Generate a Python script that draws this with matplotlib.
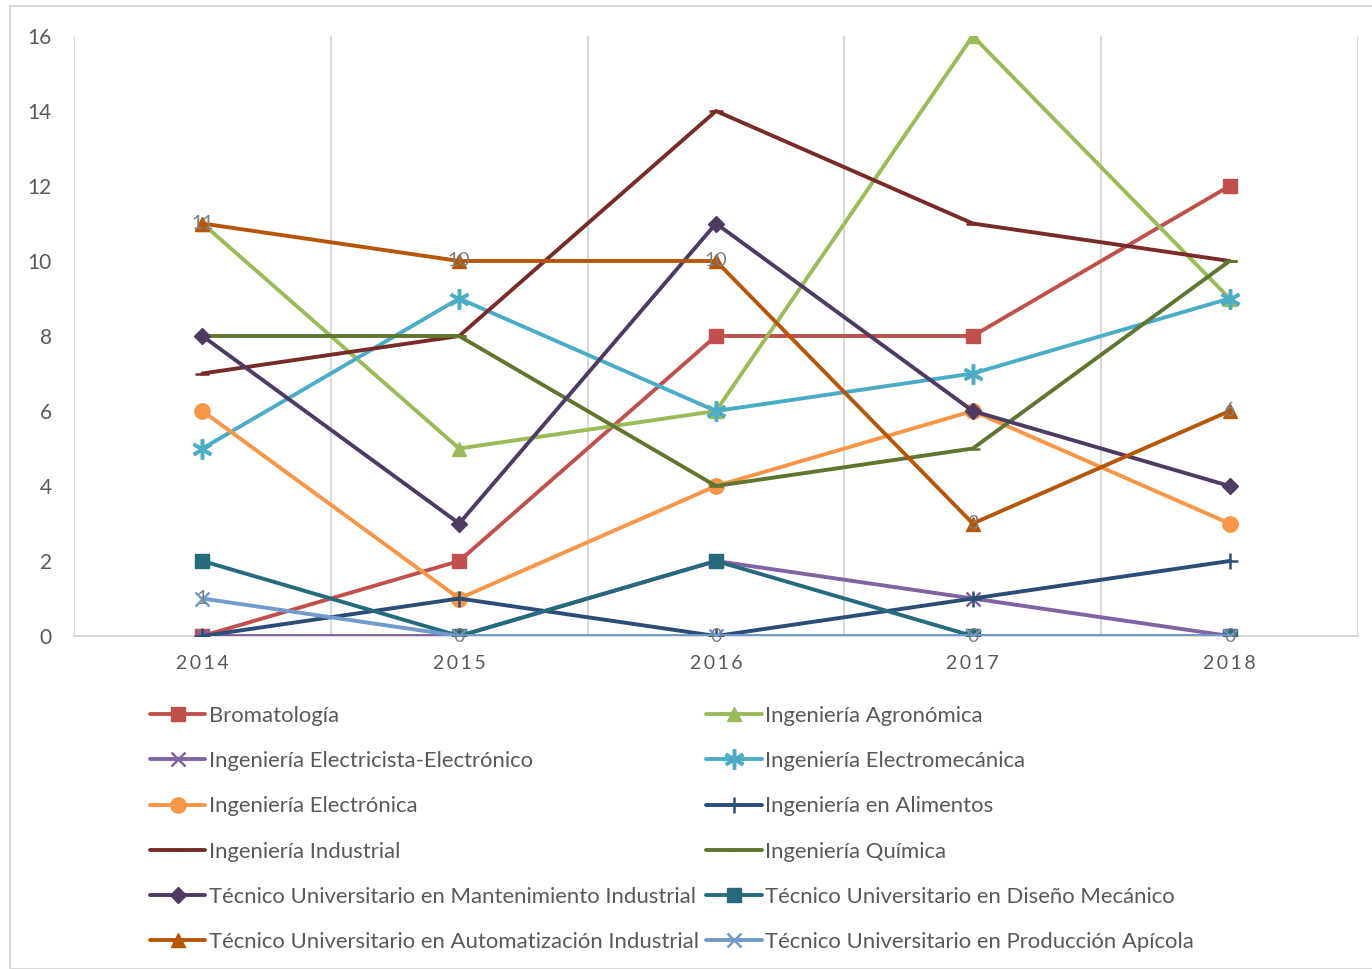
import matplotlib
matplotlib.use("Agg")
import matplotlib.pyplot as plt
from matplotlib.patches import Rectangle

plt.rcParams["font.family"] = ["Lato", "DejaVu Sans"]

years = ["2014", "2015", "2016", "2017", "2018"]

bromatologia = [0, 2, 8, 8, 12]
agronomica = [11, 5, 6, 16, 9]
electricista = [0, 0, 2, 1, 0]
electromecanica = [5, 9, 6, 7, 9]
electronica = [6, 1, 4, 6, 3]
alimentos = [0, 1, 0, 1, 2]
industrial = [7, 8, 14, 11, 10]
quimica = [8, 8, 4, 5, 10]
mantenimiento = [8, 3, 11, 6, 4]
diseno = [2, 0, 2, 0, 0]
automatizacion = [11, 10, 10, 3, 6]
apicola = [1, 0, 0, 0, 0]

# (label, values, color, marker, markersize)
SERIES = [
    ("Bromatología", bromatologia, "#C0504D", "s", 10),
    ("Ingeniería Agronómica", agronomica, "#9BBB59", "^", 10),
    ("Ingeniería Electricista-Electrónico", electricista, "#8064A2", "x", 10),
    ("Ingeniería Electromecánica", electromecanica, "#4BACC6", "$\u2217$", 14),
    ("Ingeniería Electrónica", electronica, "#F79646", "o", 11),
    ("Ingeniería en Alimentos", alimentos, "#2C4D75", "+", 12),
    ("Ingeniería Industrial", industrial, "#772C2A", "_", 10),
    ("Ingeniería Química", quimica, "#5F7530", "_", 10),
    ("Técnico Universitario en Mantenimiento Industrial", mantenimiento, "#4D3B62", "D", 8),
    ("Técnico Universitario en Diseño Mecánico", diseno, "#276A7C", "s", 10),
    ("Técnico Universitario en Automatización Industrial", automatizacion, "#B65708", "^", 10),
    ("Técnico Universitario en Producción Apícola", apicola, "#729ACA", "x", 10),
]
LABELLED = {"Técnico Universitario en Automatización Industrial",
            "Técnico Universitario en Producción Apícola"}

W, H = 1372, 969
fig = plt.figure(figsize=(W / 100, H / 100), dpi=100)
fig.patches.append(Rectangle((10 / W, 0), 1.0, 1 - 6 / H, transform=fig.transFigure,
                             fill=False, edgecolor="#D9D9D9", linewidth=1.5))

ax = fig.add_axes([74 / W, (H - 636) / H, (1358 - 74) / W, 600 / H])
x = list(range(len(years)))

handles = []
for name, vals, col, mk, ms in SERIES:
    mew = 1.8 if mk in ("x", "+", "_") else 1
    h, = ax.plot(x, vals, color=col, lw=2.8, marker=mk, markersize=ms,
                 markeredgewidth=mew, markeredgecolor=col, markerfacecolor=col,
                 label=name, solid_capstyle="round", zorder=3)
    handles.append(h)
    if name in LABELLED:
        for xi, v in zip(x, vals):
            ax.text(xi, v, str(v), color="#7F7F7F", fontsize=14,
                    ha="center", va="center", zorder=4)

ax.set_xlim(-0.5, 4.5)
ax.set_ylim(0, 16)
ax.set_yticks(range(0, 17, 2))
ax.set_xticks(x)
ax.set_xticklabels(["\u2009".join(y) for y in years])
ax.set_xticks([i - 0.5 for i in range(len(years) + 1)], minor=True)
ax.grid(which="minor", axis="x", color="#D9D9D9", lw=1.5)
ax.tick_params(which="both", length=0)
ax.tick_params(axis="y", labelsize=15, labelcolor="#595959", pad=16)
ax.tick_params(axis="x", labelsize=14, labelcolor="#595959", pad=14)
for s in ("top", "right", "left"):
    ax.spines[s].set_visible(False)
ax.spines["bottom"].set_color("#D9D9D9")
ax.spines["bottom"].set_linewidth(1.5)

# legend rows read left-to-right, so interleave for column-major fill
order = list(range(0, 12, 2)) + list(range(1, 12, 2))
leg = fig.legend([handles[i] for i in order], [SERIES[i][0] for i in order],
                 ncol=2, loc="upper left", bbox_to_anchor=(150 / W, 1 - 706 / H),
                 frameon=False, fontsize=15.9, handlelength=2.5, handletextpad=0.15,
                 columnspacing=0.36, labelspacing=1.14, borderpad=0, borderaxespad=0)
for t in leg.get_texts():
    t.set_color("#595959")

fig.savefig("out.png", dpi=100)
